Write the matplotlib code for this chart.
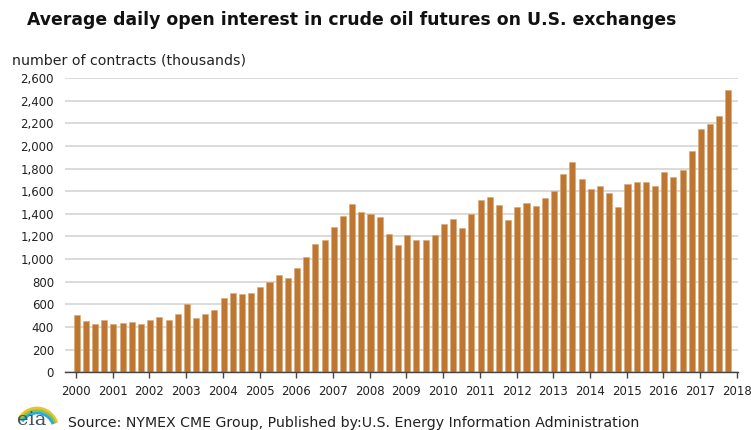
import numpy as np
import matplotlib
matplotlib.use("Agg")
import matplotlib.pyplot as plt
from matplotlib.patches import Arc

plt.rcParams['font.family'] = ['DejaVu Sans']

# quarterly average daily open interest, thousands of contracts
years = list(range(2000, 2018))
q_values = [
    [504, 453, 428, 462],      # 2000
    [428, 439, 447, 428],      # 2001
    [462, 489, 462, 516],      # 2002
    [601, 480, 516, 551],      # 2003
    [655, 699, 688, 699],      # 2004
    [758, 802, 861, 837],      # 2005
    [922, 1019, 1134, 1172],   # 2006
    [1287, 1381, 1483, 1416],  # 2007
    [1401, 1372, 1219, 1122],  # 2008
    [1210, 1166, 1166, 1210],  # 2009
    [1307, 1354, 1278, 1401],  # 2010
    [1526, 1550, 1480, 1346],  # 2011
    [1460, 1495, 1468, 1540],  # 2012
    [1600, 1756, 1854, 1704],  # 2013
    [1617, 1650, 1581, 1459],  # 2014
    [1666, 1677, 1677, 1650],  # 2015
    [1766, 1721, 1783, 1955],  # 2016
    [2148, 2196, 2261, 2495],  # 2017
]
xtick_years = list(range(2000, 2019))
yticks = list(range(0, 2601, 200))

title = "Average daily open interest in crude oil futures on U.S. exchanges"
units = "number of contracts (thousands)"
source = "Source: NYMEX CME Group, Published by:U.S. Energy Information Administration"

values = np.array(q_values).ravel()
xpos = np.array([y + q * 0.25 for y in years for q in range(4)]) + 0.02

W, H = 751, 430
fig = plt.figure(figsize=(W / 100, H / 100), dpi=100)
ax = fig.add_axes([65 / W, 1 - 372.3 / H, (738 - 65) / W, (372.3 - 78) / H])

ax.bar(xpos, values, width=0.165, color='#bf7631', edgecolor='#d9a775',
       linewidth=0.4, zorder=3)

ax.set_xlim(1999.70, 2018.03)
ax.set_ylim(0, 2600)
ax.set_yticks(yticks)
ax.set_yticklabels([f"{v:,}" for v in yticks])
ax.set_xticks(xtick_years)
ax.set_xticklabels([str(y) for y in xtick_years])
ax.yaxis.grid(True, color='#d8d8d8', linewidth=1.3, zorder=0)
ax.set_axisbelow(True)

for s in ['top', 'right', 'left']:
    ax.spines[s].set_visible(False)
ax.spines['bottom'].set_color('#444444')
ax.spines['bottom'].set_linewidth(1.0)
ax.spines['bottom'].set_zorder(4)

ax.tick_params(axis='y', length=0, pad=8, labelsize=8.5, labelcolor='#222222')
ax.tick_params(axis='x', length=4, width=1, color='#444444', pad=5,
               labelsize=8.5, labelcolor='#222222')

fig.text(27 / W, 1 - 20 / H, title, fontsize=12.4, fontweight='bold',
         va='center', ha='left', color='#111111')
fig.text(12 / W, 1 - 61 / H, units, fontsize=10.2, va='center', ha='left',
         color='#222222')
fig.text(68 / W, 1 - 423 / H, source, fontsize=10.2, va='center', ha='left',
         color='#222222')

# eia logo (approximate): swoosh drawn in pixel-like coords
lax = fig.add_axes([18 / W, 0, 40 / W, 28 / H])
lax.set_xlim(0, 40)
lax.set_ylim(0, 28)
lax.axis('off')
for w, h, c in [(42, 44, '#f2c02c'), (38, 39, '#8cc63f'), (34, 34, '#29a8df')]:
    lax.add_patch(Arc((19, 0), w, h, theta1=20, theta2=150, color=c, lw=2.0))
fig.text(17 / W, 1 - 425 / H, "eia", fontsize=14, family='DejaVu Serif',
         va='baseline', ha='left', color='#44525f', zorder=5)

fig.savefig('out.png', dpi=100)
plt.close(fig)
